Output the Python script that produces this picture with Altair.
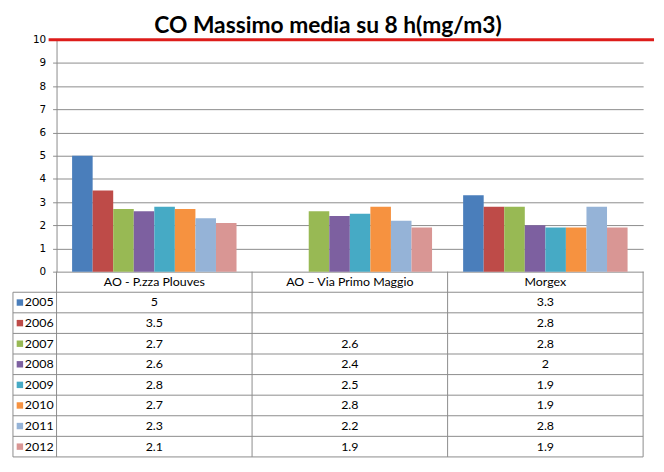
import altair as alt
import pandas as pd

stations = ["AO - P.zza Plouves", "AO – Via Primo Maggio", "Morgex"]
years = ["2005", "2006", "2007", "2008", "2009", "2010", "2011", "2012"]
v2005 = [5, None, 3.3]
v2006 = [3.5, None, 2.8]
v2007 = [2.7, 2.6, 2.8]
v2008 = [2.6, 2.4, 2.0]
v2009 = [2.8, 2.5, 1.9]
v2010 = [2.7, 2.8, 1.9]
v2011 = [2.3, 2.2, 2.8]
v2012 = [2.1, 1.9, 1.9]
series = [v2005, v2006, v2007, v2008, v2009, v2010, v2011, v2012]
limit = [10]
yticks = list(range(0, 11))
colors = ["#4A7EBB", "#BE4B48", "#98B954", "#7D60A0", "#46AAC5", "#F69240", "#95B3D7", "#D99694"]

rows = []
cells = []
for yr, vals in zip(years, series):
    for st, v in zip(stations, vals):
        if v is not None:
            rows.append({"station": st, "year": yr, "value": v})
            cells.append({"station": st, "row": yr, "label": f"{v:g}"})
for st in stations:
    cells.append({"station": st, "row": "hdr", "label": st})
df = pd.DataFrame(rows)
cells_df = pd.DataFrame(cells)
years_df = pd.DataFrame({"row": years, "year": years})
row_domain = ["hdr"] + years

W, H = 592, 234
TH = 187
GRAY = "#8C8C8C"
FONT = "Lato"

color_scale = alt.Scale(domain=years, range=colors)
yaxis = alt.Axis(values=yticks, title=None, grid=True, gridColor=GRAY, labelOverlap=False,
                 domainColor=GRAY, tickColor=GRAY, tickSize=4, labelPadding=7,
                 labelFont="DejaVu Sans", labelFontSize=10.5, labelColor="#000000")

bars = alt.Chart(df).mark_bar().encode(
    x=alt.X("station:N", sort=stations,
            scale=alt.Scale(domain=stations, paddingInner=0.159, paddingOuter=0.0795), axis=None),
    xOffset=alt.XOffset("year:N", scale=alt.Scale(domain=years, paddingInner=0, paddingOuter=0)),
    y=alt.Y("value:Q", scale=alt.Scale(domain=[0, 10], nice=False), axis=yaxis),
    color=alt.Color("year:N", scale=color_scale, legend=None),
)

red = alt.Chart(pd.DataFrame({"limit": limit})).mark_rule(color="#DD1C1A", strokeWidth=3).encode(
    y=alt.Y("limit:Q", axis=yaxis),
    x=alt.value(-8),
    x2=alt.value(W + 11),
)

top = alt.layer(bars, red).properties(width=W, height=H)

xs = alt.X("station:N", sort=stations,
           scale=alt.Scale(domain=stations, paddingInner=0, paddingOuter=0), axis=None)
ys = alt.Y("row:N", scale=alt.Scale(domain=row_domain, paddingInner=0, paddingOuter=0), axis=None)

cell_text = alt.Chart(cells_df).mark_text(font=FONT, fontSize=12.5, color="#000000").encode(
    x=xs, y=ys, text="label:N")

year_text = alt.Chart(years_df).mark_text(font=FONT, fontSize=12.5, color="#000000", align="left").encode(
    x=alt.value(-32), y=ys, text="year:N")

squares = alt.Chart(years_df).mark_square(size=42, opacity=1).encode(
    x=alt.value(-37), y=ys, color=alt.Color("year:N", scale=color_scale, legend=None))

hlines = alt.Chart(years_df).mark_rule(color=GRAY, strokeWidth=1).encode(
    y=alt.Y("row:N", scale=alt.Scale(domain=row_domain, paddingInner=0, paddingOuter=0),
            axis=None, bandPosition=0),
    x=alt.value(-44), x2=alt.value(W))

bottom_line = alt.Chart(years_df.tail(1)).mark_rule(color=GRAY, strokeWidth=1).encode(
    y=alt.Y("row:N", scale=alt.Scale(domain=row_domain, paddingInner=0, paddingOuter=0),
            axis=None, bandPosition=1),
    x=alt.value(-44), x2=alt.value(W))

vlines = alt.Chart(pd.DataFrame({"station": stations})).mark_rule(color=GRAY, strokeWidth=1).encode(
    x=alt.X("station:N", sort=stations,
            scale=alt.Scale(domain=stations, paddingInner=0, paddingOuter=0), axis=None, bandPosition=0),
    y=alt.value(0), y2=alt.value(TH))

right_line = alt.Chart(pd.DataFrame({"station": stations[-1:]})).mark_rule(color=GRAY, strokeWidth=1).encode(
    x=alt.X("station:N", sort=stations,
            scale=alt.Scale(domain=stations, paddingInner=0, paddingOuter=0), axis=None, bandPosition=1),
    y=alt.value(0), y2=alt.value(TH))

left_line = alt.Chart(years_df.head(1)).mark_rule(color=GRAY, strokeWidth=1).encode(
    x=alt.value(-44),
    y=alt.Y("row:N", scale=alt.Scale(domain=row_domain, paddingInner=0, paddingOuter=0),
            axis=None, bandPosition=0),
    y2=alt.value(TH))

table = alt.layer(hlines, bottom_line, vlines, right_line, left_line, squares, year_text, cell_text).properties(
    width=W, height=TH)

chart = alt.vconcat(top, table, spacing=0, bounds="flush").properties(
    title=alt.Title("CO Massimo media su 8 h(mg/m3)", font=FONT, fontSize=23, fontWeight="bold",
                    color="#000000", anchor="middle", offset=-3, dx=-6),
    padding={"left": 4, "top": 5, "right": 0, "bottom": 0},
).configure_view(strokeWidth=0)

chart.save("out.html", embed_options={"renderer": "svg", "actions": False})
